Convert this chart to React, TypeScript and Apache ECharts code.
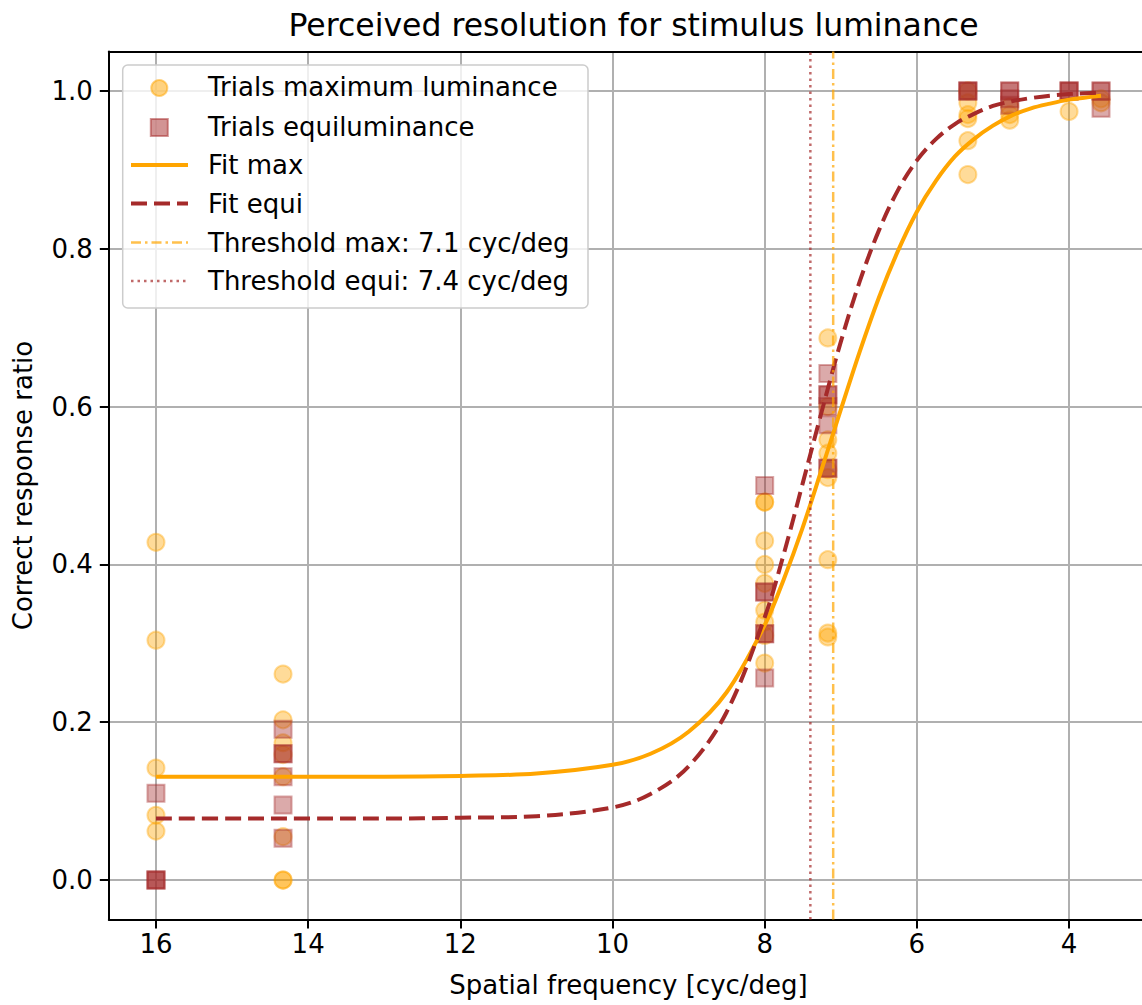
import React, { useEffect, useRef } from "react";
import * as echarts from "echarts";

const TITLE = "Perceived resolution for stimulus luminance";
const X_NAME = "Spatial frequency [cyc/deg]";
const Y_NAME = "Correct response ratio";
const X_TICKS = [16, 14, 12, 10, 8, 6, 4];
const Y_TICKS = [0, 0.2, 0.4, 0.6, 0.8, 1.0];
const X_MIN = 2.96;
const X_MAX = 16.62;
const Y_MIN = -0.05;
const Y_MAX = 1.05;

const NAME_MAX = "Trials maximum luminance";
const NAME_EQUI = "Trials equiluminance";
const NAME_FIT_MAX = "Fit max";
const NAME_FIT_EQUI = "Fit equi";
const NAME_THR_MAX = "Threshold max: 7.1 cyc/deg";
const NAME_THR_EQUI = "Threshold equi: 7.4 cyc/deg";

const maxTrialX = [
  16, 16, 16, 16, 16,
  14.33, 14.33, 14.33, 14.33, 14.33, 14.33, 14.33, 14.33,
  8, 8, 8, 8, 8, 8, 8, 8, 8,
  7.17, 7.17, 7.17, 7.17, 7.17, 7.17, 7.17, 7.17, 7.17,
  5.33, 5.33, 5.33, 5.33, 5.33, 5.33,
  4.78, 4.78, 4.78,
  4.0,
  3.58, 3.58,
];
const maxTrialY = [
  0.428, 0.304, 0.142, 0.082, 0.062,
  0.261, 0.203, 0.174, 0.159, 0.131, 0.055, 0.0, 0.0,
  0.479, 0.479, 0.43, 0.4, 0.376, 0.342, 0.327, 0.31, 0.275,
  0.687, 0.6, 0.558, 0.541, 0.52, 0.51, 0.406, 0.313, 0.308,
  1.0, 0.985, 0.97, 0.965, 0.937, 0.894,
  0.98, 0.97, 0.963,
  0.974,
  0.99, 0.985,
];

const equiTrialX = [
  16, 16, 16, 16,
  14.33, 14.33, 14.33, 14.33, 14.33, 14.33,
  8, 8, 8, 8, 8, 8,
  7.17, 7.17, 7.17, 7.17, 7.17, 7.17, 7.17,
  5.33, 5.33, 5.33,
  4.78, 4.78, 4.78, 4.78,
  4.0, 4.0, 4.0,
  3.58, 3.58, 3.58,
];
const equiTrialY = [
  0.11, 0.0, 0.0, 0.0,
  0.191, 0.16, 0.16, 0.131, 0.095, 0.053,
  0.5, 0.365, 0.365, 0.312, 0.312, 0.256,
  0.642, 0.615, 0.615, 0.6, 0.577, 0.522, 0.522,
  1.0, 1.0, 1.0,
  1.0, 1.0, 0.99, 0.982,
  1.0, 1.0, 1.0,
  1.0, 1.0, 0.978,
];

const fitX = [16, 15, 14, 13, 12, 11, 10, 9.5, 9, 8.5, 8, 7.75, 7.5, 7.25, 7, 6.75, 6.5, 6.25, 6, 5.75, 5.5, 5.25, 5, 4.75, 4.5, 4.25, 4, 3.8, 3.58];
const fitMaxY = [0.131, 0.131, 0.131, 0.131, 0.132, 0.135, 0.146, 0.16, 0.188, 0.238, 0.323, 0.381, 0.447, 0.521, 0.596, 0.67, 0.738, 0.797, 0.847, 0.886, 0.917, 0.939, 0.956, 0.969, 0.978, 0.984, 0.989, 0.9915, 0.994];
const fitEquiY = [0.078, 0.078, 0.078, 0.078, 0.079, 0.081, 0.092, 0.109, 0.144, 0.213, 0.333, 0.413, 0.503, 0.594, 0.682, 0.759, 0.823, 0.874, 0.912, 0.939, 0.958, 0.971, 0.981, 0.987, 0.991, 0.994, 0.996, 0.997, 0.998];

const thresholdMax = 7.1;
const thresholdEqui = 7.4;

const FONT = "DejaVu Sans";
const ORANGE = "#FFA500";
const BROWN = "#A52A2A";
const MAX_FILL = "rgba(255,165,0,0.5)";
const EQUI_FILL = "rgba(165,42,42,0.5)";
const THR_MAX_COLOR = "rgba(255,165,0,0.7)";
const THR_EQUI_COLOR = "rgba(165,42,42,0.7)";
const FIT_DASH = [16, 7];
const THR_MAX_DASH = [10, 4, 2.5, 4];
const THR_EQUI_DASH = [2.5, 4];

const zip = (xs: number[], ys: number[]) => xs.map((x, i) => [x, ys[i]]);

function buildLegend() {
  const boxX = 122.7;
  const boxY = 65;
  const rowY = [87, 126.5, 165, 203.5, 242.5, 281];
  const iconX0 = 131;
  const iconX1 = 188;
  const iconCx = 159.3;
  const textX = 208;
  const names = [NAME_MAX, NAME_EQUI, NAME_FIT_MAX, NAME_FIT_EQUI, NAME_THR_MAX, NAME_THR_EQUI];
  const els: any[] = [
    {
      type: "rect",
      shape: { x: boxX, y: boxY, width: 465.3, height: 243, r: 5 },
      style: { fill: "rgba(255,255,255,0.8)", stroke: "#cccccc", lineWidth: 1.5 },
      z: 100,
    },
    {
      type: "circle",
      shape: { cx: iconCx, cy: rowY[0] + 1, r: 8 },
      style: { fill: MAX_FILL, stroke: MAX_FILL, lineWidth: 2 },
      z: 101,
    },
    {
      type: "rect",
      shape: { x: iconCx - 8.5, y: rowY[1] + 1 - 8.5, width: 17, height: 17 },
      style: { fill: EQUI_FILL, stroke: EQUI_FILL, lineWidth: 2 },
      z: 101,
    },
    {
      type: "line",
      shape: { x1: iconX0, y1: rowY[2], x2: iconX1, y2: rowY[2] },
      style: { stroke: ORANGE, lineWidth: 4 },
      z: 101,
    },
    {
      type: "line",
      shape: { x1: iconX0, y1: rowY[3], x2: iconX1, y2: rowY[3] },
      style: { stroke: BROWN, lineWidth: 4, lineDash: FIT_DASH },
      z: 101,
    },
    {
      type: "line",
      shape: { x1: iconX0, y1: rowY[4], x2: iconX1, y2: rowY[4] },
      style: { stroke: THR_MAX_COLOR, lineWidth: 2.5, lineDash: THR_MAX_DASH },
      z: 101,
    },
    {
      type: "line",
      shape: { x1: iconX0, y1: rowY[5], x2: iconX1, y2: rowY[5] },
      style: { stroke: THR_EQUI_COLOR, lineWidth: 2.5, lineDash: THR_EQUI_DASH },
      z: 101,
    },
  ];
  names.forEach((n, i) => {
    els.push({
      type: "text",
      x: textX,
      y: rowY[i],
      style: {
        text: n,
        fontFamily: FONT,
        fontSize: 26,
        fill: "#000",
        textAlign: "left",
        textVerticalAlign: "middle",
      },
      z: 101,
    });
  });
  return els;
}

export default function App() {
  const ref = useRef<HTMLDivElement>(null);
  useEffect(() => {
    if (!ref.current) return;
    const chart = echarts.init(ref.current, null, { renderer: "svg" });
    const gridLeft = 108.8;
    const gridWidth = 1039.4;
    const option: any = {
      animation: false,
      backgroundColor: "#ffffff",
      textStyle: { fontFamily: FONT },
      title: {
        text: TITLE,
        left: gridLeft + gridWidth / 2,
        textAlign: "center",
        top: 4,
        textStyle: { fontFamily: FONT, fontSize: 31.5, fontWeight: "normal", color: "#000" },
      },
      grid: { left: gridLeft, top: 51.5, width: gridWidth, height: 868, containLabel: false },
      xAxis: [
        {
          type: "value",
          inverse: true,
          min: X_MIN,
          max: X_MAX,
          position: "bottom",
          name: X_NAME,
          nameLocation: "middle",
          nameGap: 52,
          nameTextStyle: { fontFamily: FONT, fontSize: 26, color: "#000" },
          axisLine: { show: true, onZero: false, lineStyle: { color: "#000", width: 2 } },
          axisTick: { show: true, length: 9, lineStyle: { color: "#000", width: 2 }, customValues: X_TICKS },
          axisLabel: { customValues: X_TICKS, fontFamily: FONT, fontSize: 26, color: "#000", margin: 11 },
          splitLine: { show: true, lineStyle: { color: "#b0b0b0", width: 2 } },
        },
        {
          type: "value",
          inverse: true,
          min: X_MIN,
          max: X_MAX,
          position: "top",
          axisLine: { show: true, onZero: false, lineStyle: { color: "#000", width: 2 } },
          axisTick: { show: false },
          axisLabel: { show: false },
          splitLine: { show: false },
        },
      ],
      yAxis: {
        type: "value",
        min: Y_MIN,
        max: Y_MAX,
        name: Y_NAME,
        nameLocation: "middle",
        nameGap: 73,
        nameTextStyle: { fontFamily: FONT, fontSize: 26, color: "#000" },
        axisLine: { show: true, onZero: false, lineStyle: { color: "#000", width: 2 } },
        axisTick: { show: true, length: 9, lineStyle: { color: "#000", width: 2 }, customValues: Y_TICKS },
        axisLabel: {
          customValues: Y_TICKS,
          fontFamily: FONT,
          fontSize: 26,
          color: "#000",
          margin: 16,
          formatter: (v: number) => v.toFixed(1),
        },
        splitLine: { show: true, lineStyle: { color: "#b0b0b0", width: 2 } },
      },
      graphic: buildLegend(),
      series: [
        {
          name: NAME_MAX,
          type: "scatter",
          symbol: "circle",
          symbolSize: 17,
          data: zip(maxTrialX, maxTrialY),
          itemStyle: { color: MAX_FILL, borderColor: MAX_FILL, borderWidth: 2 },
          z: 2,
        },
        {
          name: NAME_EQUI,
          type: "scatter",
          symbol: "rect",
          symbolSize: 17,
          data: zip(equiTrialX, equiTrialY),
          itemStyle: { color: EQUI_FILL, borderColor: EQUI_FILL, borderWidth: 2 },
          z: 2,
        },
        {
          name: NAME_FIT_MAX,
          type: "line",
          data: zip(fitX, fitMaxY),
          symbol: "none",
          smooth: 0.35,
          lineStyle: { color: ORANGE, width: 4 },
          itemStyle: { color: ORANGE },
          z: 3,
        },
        {
          name: NAME_FIT_EQUI,
          type: "line",
          data: zip(fitX, fitEquiY),
          symbol: "none",
          smooth: 0.35,
          lineStyle: { color: BROWN, width: 4, type: FIT_DASH },
          itemStyle: { color: BROWN },
          z: 3,
        },
        {
          name: NAME_THR_MAX,
          type: "line",
          data: [[thresholdMax, Y_MIN], [thresholdMax, Y_MAX]],
          symbol: "none",
          lineStyle: { color: THR_MAX_COLOR, width: 2.5, type: THR_MAX_DASH },
          itemStyle: { color: THR_MAX_COLOR },
          z: 3,
        },
        {
          name: NAME_THR_EQUI,
          type: "line",
          data: [[thresholdEqui, Y_MIN], [thresholdEqui, Y_MAX]],
          symbol: "none",
          lineStyle: { color: THR_EQUI_COLOR, width: 2.5, type: THR_EQUI_DASH },
          itemStyle: { color: THR_EQUI_COLOR },
          z: 3,
        },
      ],
    };
    chart.setOption(option);
    return () => chart.dispose();
  }, []);
  return (
    <div
      ref={ref}
      style={{ position: "fixed", left: 0, top: 0, width: 1150, height: 1005, background: "#fff" }}
    />
  );
}
